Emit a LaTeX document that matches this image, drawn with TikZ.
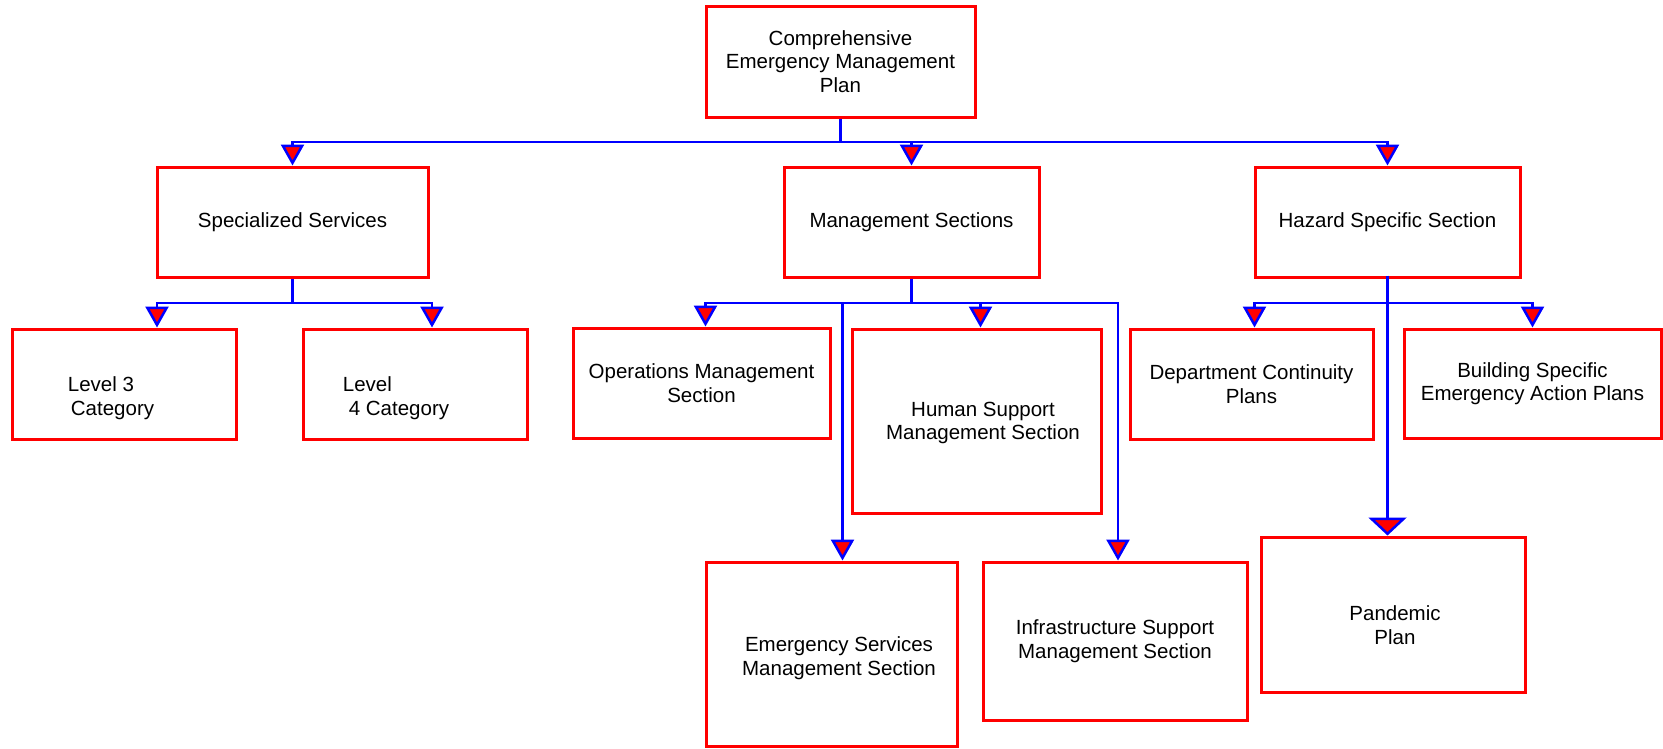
\documentclass[tikz,border=0pt]{standalone}
\usepackage{fontspec}
\setmainfont{Liberation Sans}
\usetikzlibrary{arrows.meta}

\begin{document}
\begin{tikzpicture}[x=1pt,y=-1pt,
    box/.style={draw=red,line width=3pt,inner sep=0pt,align=center,
        font=\fontsize{20.5}{23.5}\selectfont},
    txt/.style={inner sep=0pt,font=\fontsize{20.5}{23.5}\selectfont},
    wire/.style={draw=blue,line width=2.5pt},
    tip/.style={-{Triangle[length=21pt,width=23pt,fill=red]}},
    bigtip/.style={-{Triangle[length=18pt,width=38pt,fill=red]}}]
    \useasboundingbox (0,0) rectangle (1663,748);
    % boxes
    \node[box,minimum width=269pt,minimum height=111pt](root)at(840.5,61.5){Comprehensive\\Emergency Management\\Plan};
    \node[box,minimum width=271pt,minimum height=110pt](ss)at(292.5,222){Specialized Services};
    \node[box,minimum width=255pt,minimum height=110pt](ms)at(911.5,222){Management Sections};
    \node[box,minimum width=265pt,minimum height=110pt](hs)at(1387.5,222){Hazard Specific Section};
    \node[box,minimum width=224pt,minimum height=110pt](lv3)at(124,384){};
    \node[txt,align=left](lv3-t)at(111,398){Level 3\\\hspace*{3pt}Category};
    \node[box,minimum width=224pt,minimum height=110pt](lv4)at(415,384){};
    \node[txt,align=left](lv4-t)at(396,398){Level\\\hspace*{6pt}4 Category};
    \node[box,minimum width=257pt,minimum height=110pt](ops)at(701.5,383){Operations Management\\Section};
    \node[box,minimum width=249pt,minimum height=184pt](hu)at(976.5,421){};
    \node[txt,align=center](hu-t)at(983,423){Human Support\\Management Section};
    \node[box,minimum width=251pt,minimum height=184pt](es)at(831.5,654){};
    \node[txt,align=center](es-t)at(839,658){Emergency Services\\Management Section};
    \node[box,minimum width=264pt,minimum height=158pt](inf)at(1115,641){Infrastructure Support\\Management Section};
    \node[box,minimum width=243pt,minimum height=110pt](dc)at(1251.5,384){Department Continuity\\Plans};
    \node[box,minimum width=257pt,minimum height=109pt](bp)at(1532.5,383.5){Building Specific\\Emergency Action Plans};
    \node[box,minimum width=264pt,minimum height=155pt](pp)at(1393,614.5){};
    \node[txt,align=center](pp-t)at(1395,625){Pandemic\\Plan};
    % buses
    \coordinate(busA)at(840.5,142);
    \coordinate(busB)at(292.5,303);
    \coordinate(busC)at(911.5,303);
    \coordinate(busD)at(1387.5,303);
    % top level
    \draw[wire](root.south)--(busA);
    \draw[wire,tip](busA)-|(ss.north);
    \draw[wire,tip](busA)-|(ms.north);
    \draw[wire,tip](busA)-|(hs.north);
    % specialized services
    \draw[wire](ss.south)--(busB);
    \draw[wire,tip](busB)-|([xshift=33pt]lv3.north);
    \draw[wire,tip](busB)-|([xshift=17pt]lv4.north);
    % management sections
    \draw[wire](ms.south)--(busC);
    \draw[wire,tip](busC)-|([xshift=4pt]ops.north);
    \draw[wire,tip](busC)-|([xshift=11pt]es.north);
    \draw[wire,tip](busC)-|([xshift=4pt]hu.north);
    \draw[wire,tip](busC)-|([xshift=3pt]inf.north);
    % hazard specific
    \draw[wire,bigtip]([yshift=3pt]hs.south)--(hs.south|-pp.north);
    \draw[wire,tip](busD)-|([xshift=3pt]dc.north);
    \draw[wire,tip](busD)-|(bp.north);
\end{tikzpicture}
\end{document}
